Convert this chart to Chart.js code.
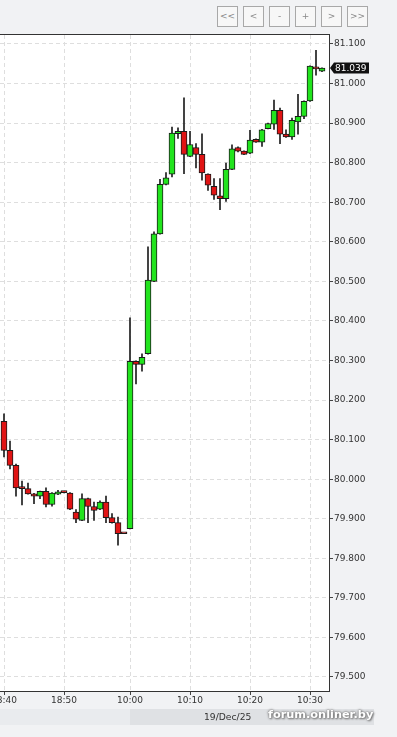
<!DOCTYPE html>
<html>
<head>
<meta charset="utf-8">
<script src="https://cdn.jsdelivr.net/npm/chart.js@4.4.1/dist/chart.umd.min.js"></script>
<style>
  body { margin: 0; background: #f1f2f4; font-family: "DejaVu Sans", sans-serif; }
  #wrap { position: relative; width: 397px; height: 737px; overflow: hidden; }
  #chart { position: absolute; left: 0; top: 0; }
  .btn { position: absolute; top: 6px; width: 21px; height: 21px; box-sizing: border-box;
         border: 1px solid #a8a8a8; background: #f7f7f7; color: #888; font-size: 9px;
         line-height: 19px; text-align: center; }
  .bar { position: absolute; top: 709px; height: 16px; }
  #date { position: absolute; top: 711px; left: 204px; font-size: 9.2px; color: #333; }
  #mark { position: absolute; top: 708px; left: 268px; font-size: 11.3px; font-weight: bold;
          color: #fff; text-shadow: 0 0 2px #777, 0 0 3px #888, 1px 1px 2px #777; }
</style>
</head>
<body>
<div id="wrap">
  <canvas id="chart" width="397" height="737"></canvas>
  <div class="bar" style="left:0;width:130px;background:#e9ebee"></div>
  <div class="bar" style="left:130px;width:244px;background:#dfe1e4"></div>
  <div id="date">19/Dec/25</div>
  <div id="mark">forum.onliner.by</div>
  <div class="btn" style="left:217px">&lt;&lt;</div>
  <div class="btn" style="left:243px">&lt;</div>
  <div class="btn" style="left:269px">-</div>
  <div class="btn" style="left:295px">+</div>
  <div class="btn" style="left:321px">&gt;</div>
  <div class="btn" style="left:347px">&gt;&gt;</div>
</div>
<script>
// one-minute candles, 18 Dec evening + 19 Dec morning
const times = ['18:40','18:41','18:42','18:43','18:44','18:45','18:46','18:47','18:48','18:49',
  '18:50','18:51','18:52','18:53','18:54','18:55','18:56','18:57','18:58','18:59','19:00',
  '10:00','10:01','10:02','10:03','10:04','10:05','10:06','10:07','10:08','10:09',
  '10:10','10:11','10:12','10:13','10:14','10:15','10:16','10:17','10:18','10:19',
  '10:20','10:21','10:22','10:23','10:24','10:25','10:26','10:27','10:28','10:29',
  '10:30','10:31','10:32'];
const opens = [80.146,80.073,80.035,79.977,79.976,79.963,79.957,79.969,79.936,79.962,
  79.967,79.965,79.917,79.896,79.951,79.931,79.924,79.942,79.903,79.890,79.863,
  79.875,80.298,80.290,80.317,80.500,80.620,80.745,80.771,80.873,80.879,
  80.816,80.838,80.821,80.771,80.740,80.716,80.709,80.783,80.838,80.829,
  80.824,80.859,80.852,80.886,80.897,80.932,80.872,80.865,80.903,80.917,
  80.956,81.040,81.031];
const highs = [80.165,80.096,80.038,79.995,79.990,79.964,79.970,79.978,79.966,79.972,
  79.968,79.966,79.923,79.963,79.952,79.942,79.945,79.957,79.913,79.904,79.863,
  80.408,80.299,80.317,80.587,80.625,80.758,80.775,80.890,80.888,80.964,
  80.879,80.848,80.873,80.772,80.760,80.760,80.799,80.845,80.840,80.830,
  80.882,80.860,80.884,80.900,80.958,80.938,80.883,80.913,80.973,80.956,
  81.045,81.084,81.040];
const lows = [80.056,80.026,79.957,79.935,79.962,79.938,79.951,79.930,79.932,79.961,
  79.965,79.923,79.890,79.895,79.890,79.896,79.923,79.890,79.889,79.833,79.862,
  79.874,80.241,80.273,80.316,80.499,80.619,80.744,80.764,80.861,80.772,
  80.815,80.787,80.756,80.730,80.707,80.681,80.702,80.782,80.827,80.820,
  80.823,80.851,80.841,80.885,80.884,80.848,80.864,80.859,80.872,80.911,
  80.955,81.021,81.030];
const closes = [80.073,80.035,79.978,79.976,79.963,79.957,79.969,79.936,79.965,79.968,
  79.966,79.924,79.899,79.951,79.931,79.921,79.942,79.903,79.890,79.862,79.862,
  80.298,80.290,80.308,80.503,80.620,80.745,80.762,80.875,80.879,80.821,
  80.846,80.821,80.774,80.743,80.718,80.709,80.783,80.835,80.829,80.821,
  80.857,80.852,80.883,80.899,80.932,80.872,80.865,80.907,80.917,80.955,
  81.044,81.037,81.039];
const xTickLabels = ['18:40','18:50','10:00','10:10','10:20','10:30'];
const yTicks = [79.5,79.6,79.7,79.8,79.9,80.0,80.1,80.2,80.3,80.4,80.5,80.6,80.7,80.8,80.9,81.0,81.1];

const bodies = times.map((t, i) => ({x: i, y: [opens[i], closes[i]]}));
const wicks = times.map((t, i) => ({x: i, y: [lows[i], highs[i]]}));
const bodyColors = times.map((t, i) => closes[i] >= opens[i] ? '#22e41e' : '#e01414');

const bgPlugin = {
    id: 'bg',
    beforeDraw(chart) {
        const {ctx, chartArea: a} = chart;
        ctx.save();
        ctx.fillStyle = '#f1f2f4';
        ctx.fillRect(0, 0, chart.width, chart.height);
        ctx.fillStyle = '#ffffff';
        ctx.fillRect(a.left, a.top, a.right - a.left, a.bottom - a.top);
        ctx.restore();
    },
    afterDraw(chart) {
        const {ctx, chartArea: a} = chart;
        ctx.save();
        // top frame line
        ctx.strokeStyle = '#333';
        ctx.lineWidth = 1;
        ctx.beginPath();
        ctx.moveTo(a.left, Math.round(a.top) - 0.5);
        ctx.lineTo(a.right + 1, Math.round(a.top) - 0.5);
        ctx.stroke();
        // last price marker
        const last = closes[closes.length - 1];
        const y = Math.round(chart.scales.y.getPixelForValue(last));
        const x0 = a.right + 1;
        ctx.fillStyle = '#111';
        ctx.beginPath();
        ctx.moveTo(x0, y);
        ctx.lineTo(x0 + 4, y - 5.5);
        ctx.lineTo(x0 + 39, y - 5.5);
        ctx.lineTo(x0 + 39, y + 5.5);
        ctx.lineTo(x0 + 4, y + 5.5);
        ctx.closePath();
        ctx.fill();
        ctx.fillStyle = '#fff';
        ctx.font = '9px "DejaVu Sans"';
        ctx.textBaseline = 'middle';
        ctx.fillText(last.toFixed(3), x0 + 5, y + 0.5);
        ctx.restore();
    }
};

const chart = new Chart(document.getElementById('chart'), {
    type: 'bar',
    data: {
        datasets: [{
            label: 'body',
            data: bodies,
            backgroundColor: bodyColors,
            borderColor: '#1a1a1a',
            borderWidth: 1,
            borderSkipped: false,
            barThickness: 6,
            minBarLength: 2,
            grouped: false,
            order: 0
        }, {
            label: 'wick',
            data: wicks,
            backgroundColor: '#1e1e1e',
            borderWidth: 0,
            barThickness: 1,
            grouped: false,
            order: 1
        }]
    },
    plugins: [bgPlugin],
    options: {
        responsive: false,
        animation: false,
        devicePixelRatio: 1,
        layout: { padding: { top: 35, left: 0, right: 0, bottom: 0 } },
        plugins: {
            legend: { display: false },
            tooltip: { enabled: false }
        },
        scales: {
            x: {
                type: 'linear',
                offset: false,
                min: -4 / 6,
                max: 325 / 6,
                afterBuildTicks: (scale) => {
                    scale.ticks = xTickLabels.map(l => ({value: times.indexOf(l)}));
                },
                afterFit: (scale) => {
                    scale.height = 46;
                    scale.paddingLeft = 0;
                    scale.paddingRight = 0;
                },
                grid: { offset: false, color: '#dedede', tickLength: 4, tickColor: '#444' },
                border: { display: true, color: '#333', dash: [4, 3] },
                ticks: {
                    autoSkip: false,
                    maxRotation: 0,
                    padding: 0,
                    color: '#333',
                    font: { family: 'DejaVu Sans', size: 9 },
                    callback: (v) => times[v]
                }
            },
            y: {
                position: 'right',
                min: 79.4646,
                max: 81.1227,
                afterBuildTicks: (scale) => {
                    scale.ticks = yTicks.map(v => ({value: v}));
                },
                afterFit: (scale) => {
                    scale.width = 68;
                    scale.paddingTop = 0;
                    scale.paddingBottom = 0;
                },
                grid: { color: '#dedede', tickLength: 4, tickColor: '#444' },
                border: { display: true, color: '#333', dash: [4, 3] },
                ticks: {
                    padding: 1,
                    color: '#333',
                    font: { family: 'DejaVu Sans', size: 9 },
                    callback: (v) => v.toFixed(3)
                }
            }
        }
    }
});
</script>
</body>
</html>
